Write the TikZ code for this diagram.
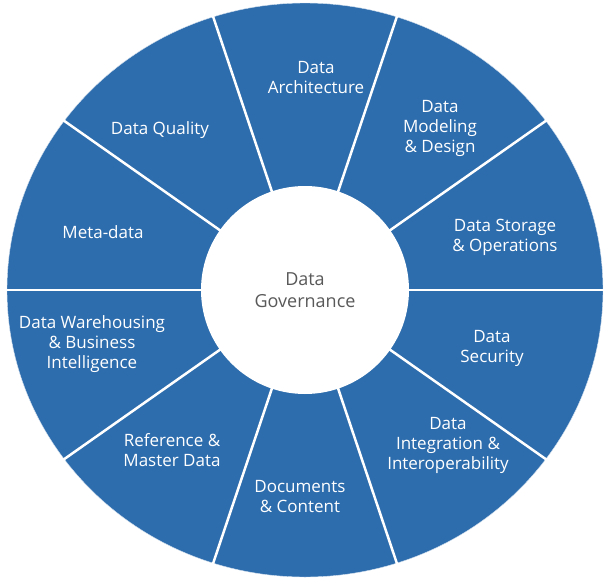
\documentclass[tikz,border=0pt]{standalone}
\usepackage{fontspec}
\setmainfont{Open Sans}
\usetikzlibrary{positioning}
\definecolor{wheelblue}{HTML}{2E6DAD}
\begin{document}
\begin{tikzpicture}[x=1pt, y=-1pt, font=\fontsize{17}{20}\selectfont]
		\tikzstyle{area}=[text=white, align=center]
		\tikzstyle{spoke}=[draw=white, line width=2.5pt]
		\useasboundingbox (0,0) rectangle (606,579);
		
		\coordinate (c) at (305,290);
		\fill[wheelblue, draw=white!80!wheelblue] (c) ellipse [x radius=298, y radius=287];
		\foreach \a in {108,72,36,0,-36,-72,-108,-144,180,144}
			\draw[spoke] (c) -- ++({300*cos(\a)},{-290*sin(\a)});
		\fill[white] (c) circle (104);
		
		\node[text=black!65, align=center, font=\fontsize{18}{22}\selectfont] (gov) at (c) {Data\\Governance};
		\node[area] (arch) at (316,78) {Data\\Architecture};
		\node[area] (model) at (440,128) {Data\\Modeling\\\& Design};
		\node[area] (store) at (505,237) {Data Storage\\\& Operations};
		\node[area] (sec) at (492,348) {Data\\Security};
		\node[area] (integ) at (448,445) {Data\\Integration \&\\Interoperability};
		\node[area] (docs) at (300,497) {Documents\\\& Content};
		\node[area] (ref) at (172,450) {Reference \&\\Master Data};
		\node[area] (dw) at (92,344) {Data Warehousing\\\& Business\\Intelligence};
		\node[area] (meta) at (103,232) {Meta-data};
		\node[area] (qual) at (160,130) {Data Quality};
	\end{tikzpicture}
\end{document}
